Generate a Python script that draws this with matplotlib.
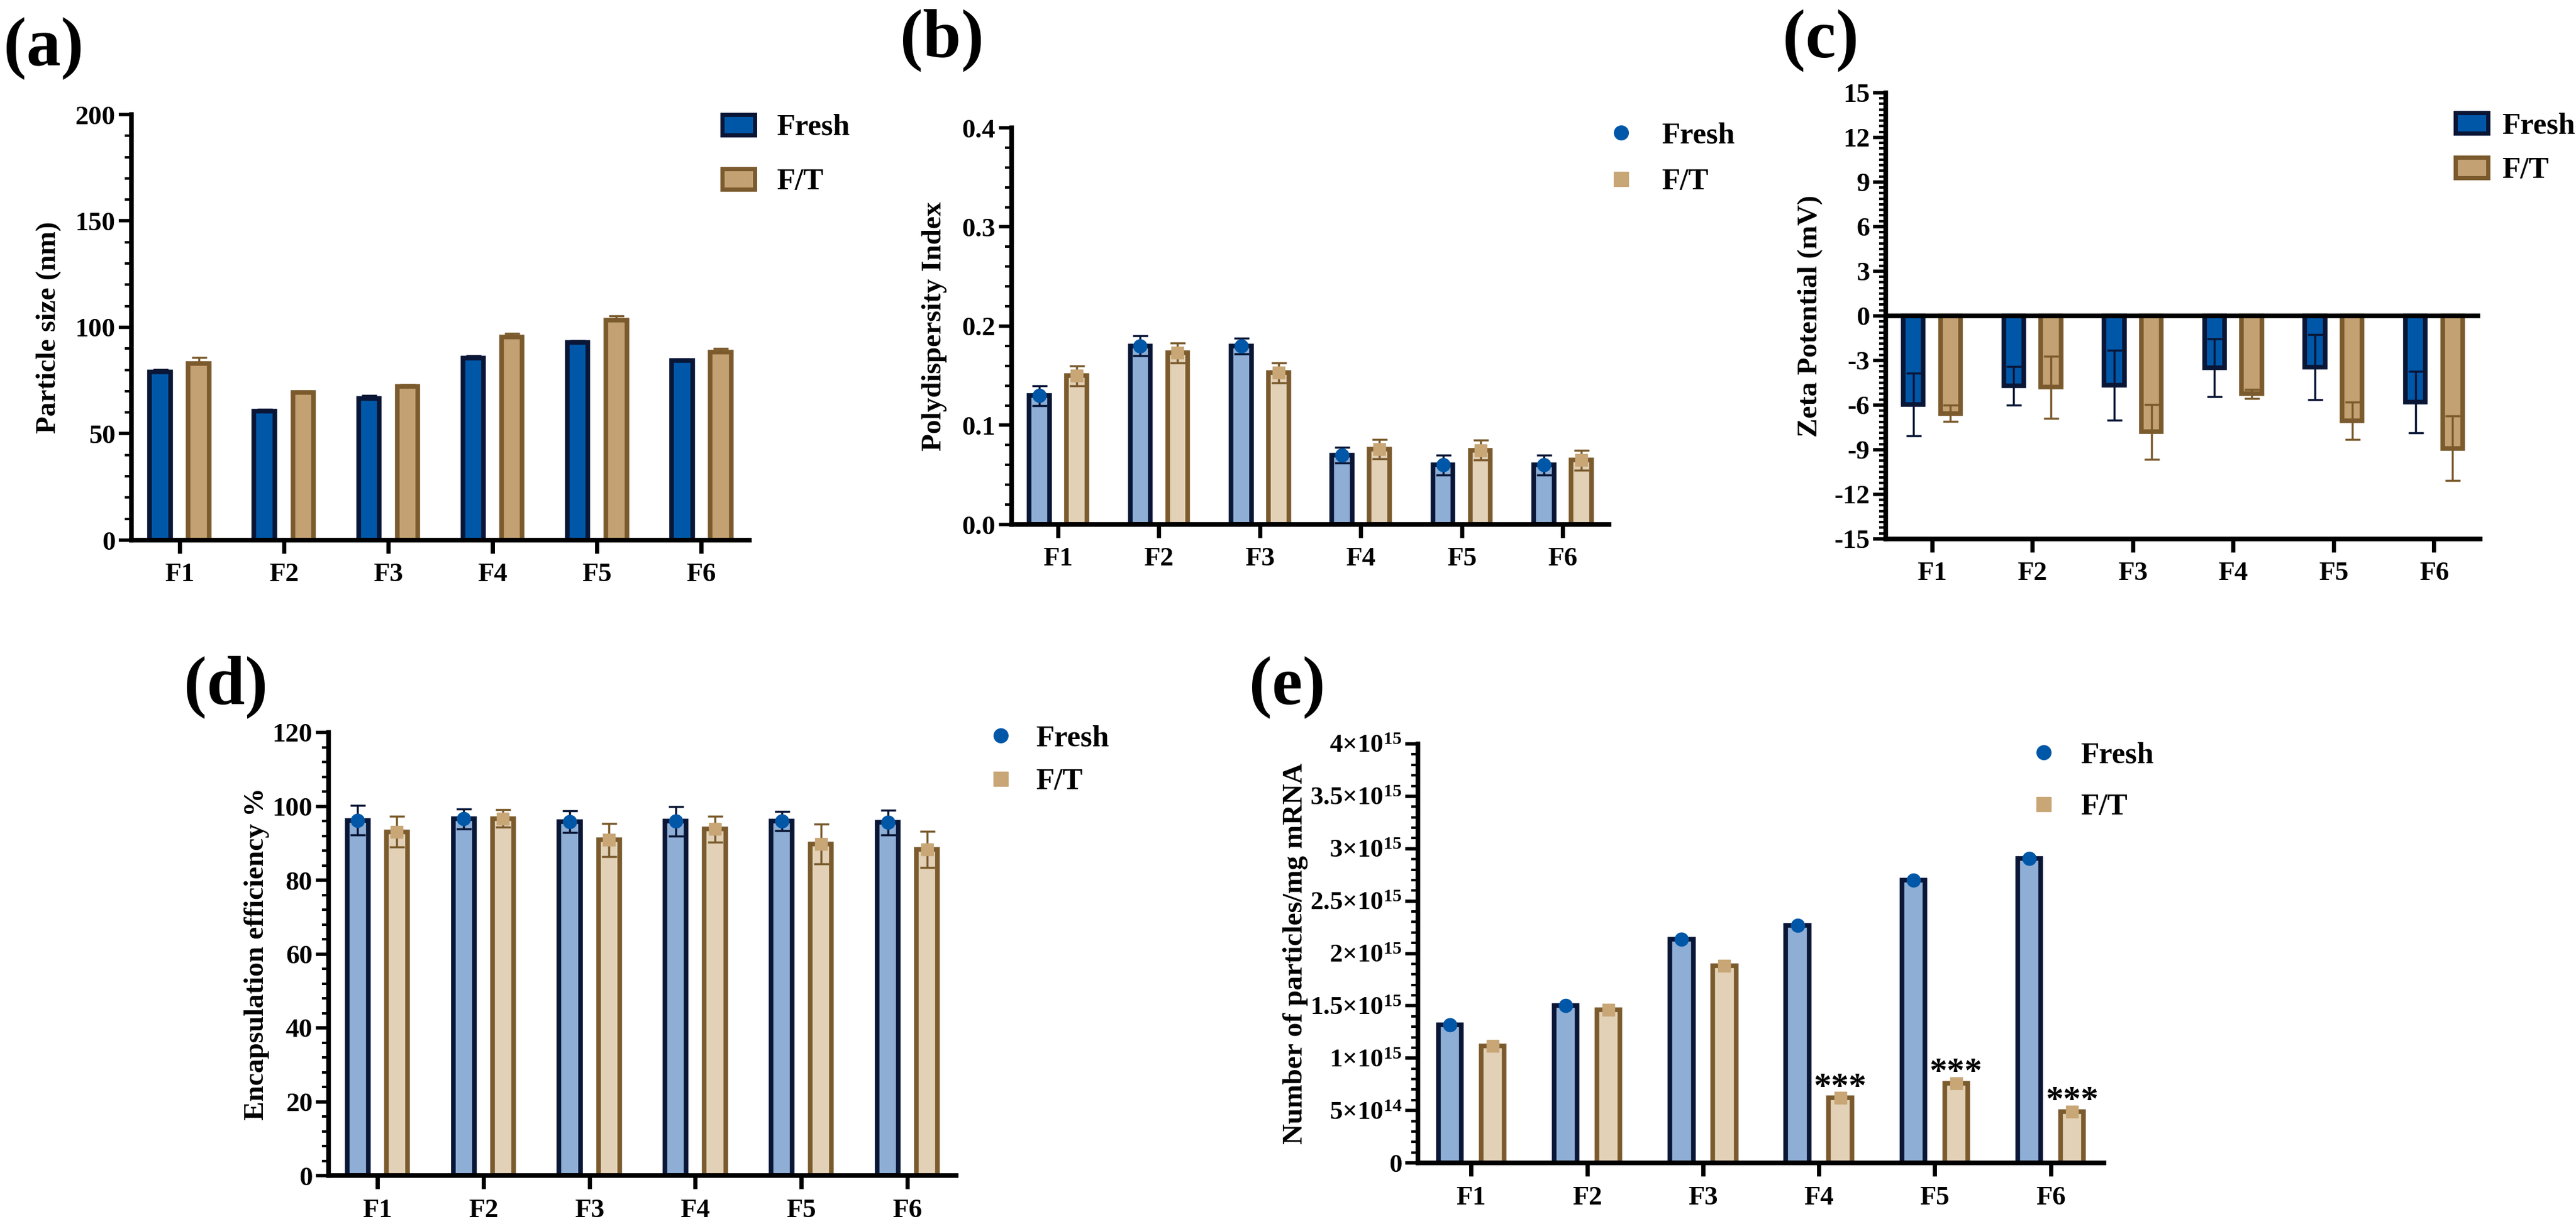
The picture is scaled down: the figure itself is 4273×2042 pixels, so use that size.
import matplotlib
matplotlib.use('Agg')
import matplotlib.pyplot as plt
import numpy as np
from matplotlib.ticker import AutoMinorLocator
from matplotlib.patches import Rectangle
from matplotlib.lines import Line2D

FONT = 'Liberation Serif'
plt.rcParams['font.family'] = 'serif'
plt.rcParams['font.serif'] = [FONT, 'DejaVu Serif']
plt.rcParams['font.weight'] = 'bold'
plt.rcParams['axes.unicode_minus'] = False
plt.rcParams['mathtext.fontset'] = 'custom'
plt.rcParams['mathtext.rm'] = 'Liberation Serif:bold'
plt.rcParams['mathtext.bf'] = 'Liberation Serif:bold'
plt.rcParams['mathtext.it'] = 'Liberation Serif:bold'

# ---------------- data ----------------
categories = ['F1', 'F2', 'F3', 'F4', 'F5', 'F6']
series = ['Fresh', 'F/T']

size_fresh = [79.0, 60.5, 66.5, 85.5, 93.0, 84.5]
size_fresh_err = [1.2, 1.0, 1.4, 1.1, 0.8, 0.5]
size_ft = [83.0, 69.5, 72.3, 95.5, 103.5, 88.5]
size_ft_err = [2.8, 0.5, 0.8, 1.6, 1.8, 1.5]

pdi_fresh = [0.130, 0.180, 0.180, 0.070, 0.060, 0.060]
pdi_fresh_err = [0.010, 0.010, 0.008, 0.008, 0.010, 0.010]
pdi_ft = [0.150, 0.173, 0.153, 0.076, 0.075, 0.065]
pdi_ft_err = [0.010, 0.010, 0.010, 0.010, 0.010, 0.010]

zeta_fresh = [-5.95, -4.70, -4.65, -3.50, -3.45, -5.80]
zeta_fresh_err = [2.10, 1.30, 2.35, 1.95, 2.20, 2.05]
zeta_ft = [-6.55, -4.80, -7.80, -5.25, -7.05, -8.90]
zeta_ft_err = [0.55, 2.10, 1.85, 0.30, 1.25, 2.15]

ee_fresh = [96.2, 96.6, 95.8, 96.0, 96.0, 95.6]
ee_fresh_err = [4.0, 2.7, 2.9, 4.0, 2.6, 3.3]
ee_ft = [93.1, 96.7, 90.9, 93.8, 89.8, 88.4]
ee_ft_err = [4.2, 2.4, 4.5, 3.5, 5.4, 4.9]

npart_fresh = [1.32e15, 1.50e15, 2.135e15, 2.27e15, 2.70e15, 2.905e15]
npart_ft = [1.115e15, 1.46e15, 1.88e15, 6.2e14, 7.6e14, 4.9e14]
npart_sig = ['', '', '', '***', '***', '***']

# tick labels
size_ticks = ['0', '50', '100', '150', '200']
pdi_ticks = ['0.0', '0.1', '0.2', '0.3', '0.4']
zeta_ticks = ['-15', '-12', '-9', '-6', '-3', '0', '3', '6', '9', '12', '15']
ee_ticks = ['0', '20', '40', '60', '80', '100', '120']
npart_ticks = ['0', r'$5×10^{14}$', r'$1×10^{15}$', r'$1.5×10^{15}$', r'$2×10^{15}$',
               r'$2.5×10^{15}$', r'$3×10^{15}$', r'$3.5×10^{15}$', r'$4×10^{15}$']

# ---------------- styles ----------------
NAVY = '#0A1636'
BLUE = '#0057A8'
LBLUE = '#8EAED6'
BROWN = '#7B5B2D'
TAN = '#C4A172'
LTAN = '#E2D1B7'
MTAN = '#C8A676'

W, H = 4273, 2042
fig = plt.figure(figsize=(W / 100, H / 100), dpi=100)

x = np.arange(len(categories))
OFF = 0.185
BW = 0.2
ELW = 5.5
TXT = dict(family=FONT, fontweight='bold')


def add_axes_px(left, right, top, bottom):
    return fig.add_axes([left / W, 1 - bottom / H, (right - left) / W, (bottom - top) / H])


def style(ax, ylo, yhi, ylabels, yminor, ysize=32):
    for s in ['top', 'right']:
        ax.spines[s].set_visible(False)
    for s in ['left', 'bottom']:
        ax.spines[s].set_linewidth(5.5)
        ax.spines[s].set_capstyle('projecting')
    ax.set_xlim(-0.46, 5.46)
    ax.set_ylim(ylo, yhi)
    ax.set_xticks(x, categories, fontsize=32, **TXT)
    yt = np.linspace(ylo, yhi, len(ylabels))
    ax.set_yticks(yt, ylabels, fontsize=ysize, **TXT)
    ax.yaxis.set_minor_locator(AutoMinorLocator(yminor))
    ax.tick_params(axis='y', which='major', length=15, width=4, pad=4)
    ax.tick_params(axis='y', which='minor', length=8, width=3)
    ax.tick_params(axis='x', which='major', length=16, width=5, pad=11)
    ax.tick_params(axis='x', which='minor', bottom=False)


def ylab(ax, text, xc):
    ax.set_ylabel(text, fontsize=34, va='center', **TXT)
    ax.yaxis.set_label_coords(xc, 0.5)


def patch_legend(xp, yf, yt, xt, dark=True):
    items = [(yf, series[0], BLUE if dark else LBLUE, NAVY), (yt, series[1], TAN if dark else LTAN, BROWN)]
    for yc, lab, fc, ec in items:
        pw, ph = 54, 34
        fig.add_artist(Rectangle((xp / W, 1 - (yc + ph / 2) / H), pw / W, ph / H,
                                 transform=fig.transFigure, facecolor=fc, edgecolor=ec, linewidth=5))
        fig.text(xt / W, 1 - (yc + 5) / H, lab, fontsize=36, va='center', ha='left', **TXT)


def marker_legend(xm, yf, yt, xt):
    items = [(yf, series[0], 'o', BLUE), (yt, series[1], 's', MTAN)]
    for yc, lab, mk, col in items:
        fig.add_artist(Line2D([xm / W], [1 - yc / H], marker=mk, markersize=17, color=col,
                              linestyle='none', transform=fig.transFigure))
        fig.text(xt / W, 1 - (yc + 5) / H, lab, fontsize=36, va='center', ha='left', **TXT)


def panel_letter(xl, yc, s):
    fig.text(xl / W, 1 - yc / H, s, fontsize=82, va='center', ha='left', **TXT)


EB = dict(elinewidth=2.5, capsize=9, capthick=2.5, zorder=3)

# ---------------- (a) particle size ----------------
ax = add_axes_px(218, 1243, 190, 896)
style(ax, 0, 200, size_ticks, 5)
ax.bar(x - OFF, size_fresh, BW, color=BLUE, edgecolor=NAVY, linewidth=ELW, zorder=2)
ax.bar(x + OFF, size_ft, BW, color=TAN, edgecolor=BROWN, linewidth=ELW, zorder=2)
ax.errorbar(x - OFF, size_fresh, yerr=[np.zeros(6), size_fresh_err], fmt='none', ecolor=NAVY, **EB)
ax.errorbar(x + OFF, size_ft, yerr=[np.zeros(6), size_ft_err], fmt='none', ecolor=BROWN, **EB)
ylab(ax, 'Particle size (nm)', -0.134)
patch_legend(1198, 207, 297, 1288, dark=True)
panel_letter(6, 80, '(a)')

# ---------------- (b) PDI ----------------
ax = add_axes_px(1678, 2669, 212, 870)
style(ax, 0, 0.4, pdi_ticks, 5)
ax.bar(x - OFF, pdi_fresh, BW, color=LBLUE, edgecolor=NAVY, linewidth=ELW, zorder=2)
ax.bar(x + OFF, pdi_ft, BW, color=LTAN, edgecolor=BROWN, linewidth=ELW, zorder=2)
ax.errorbar(x - OFF, pdi_fresh, yerr=pdi_fresh_err, fmt='o', ms=16, color=BLUE, ecolor=NAVY, **EB)
ax.errorbar(x + OFF, pdi_ft, yerr=pdi_ft_err, fmt='s', ms=15, color=MTAN, ecolor=BROWN, **EB)
ylab(ax, 'Polydispersity Index', -0.129)
marker_legend(2689, 220, 297, 2756)
panel_letter(1493, 67, '(b)')

# ---------------- (c) zeta potential ----------------
ax = add_axes_px(3128, 4114, 154, 894)
style(ax, -15, 15, zeta_ticks, 8)
ax.bar(x - OFF, zeta_fresh, BW, color=BLUE, edgecolor=NAVY, linewidth=ELW, zorder=2)
ax.bar(x + OFF, zeta_ft, BW, color=TAN, edgecolor=BROWN, linewidth=ELW, zorder=2)
ax.errorbar(x - OFF, zeta_fresh, yerr=zeta_fresh_err, fmt='none', ecolor=NAVY, **EB)
ax.errorbar(x + OFF, zeta_ft, yerr=zeta_ft_err, fmt='none', ecolor=BROWN, **EB)
ax.axhline(0, color='black', linewidth=5.5, zorder=4)
ylab(ax, 'Zeta Potential (mV)', -0.127)
patch_legend(4073, 204, 278, 4150, dark=True)
panel_letter(2957, 67, '(c)')

# ---------------- (d) encapsulation efficiency ----------------
ax = add_axes_px(545, 1586, 1215, 1950)
style(ax, 0, 120, ee_ticks, 5)
ax.bar(x - OFF, ee_fresh, BW, color=LBLUE, edgecolor=NAVY, linewidth=ELW, zorder=2)
ax.bar(x + OFF, ee_ft, BW, color=LTAN, edgecolor=BROWN, linewidth=ELW, zorder=2)
ax.errorbar(x - OFF, ee_fresh, yerr=ee_fresh_err, fmt='o', ms=16, color=BLUE, ecolor=NAVY, **EB)
ax.errorbar(x + OFF, ee_ft, yerr=ee_ft_err, fmt='s', ms=15, color=MTAN, ecolor=BROWN, **EB)
ylab(ax, 'Encapsulation efficiency %', -0.114)
marker_legend(1660, 1220, 1292, 1718)
panel_letter(305, 1140, '(d)')

# ---------------- (e) number of particles ----------------
ax = add_axes_px(2352, 3490, 1234, 1929)
style(ax, 0, 4e15, npart_ticks, 5, ysize=31)
ax.bar(x - OFF, npart_fresh, BW, color=LBLUE, edgecolor=NAVY, linewidth=ELW, zorder=2)
ax.bar(x + OFF, npart_ft, BW, color=LTAN, edgecolor=BROWN, linewidth=ELW, zorder=2)
ax.plot(x - OFF, npart_fresh, 'o', ms=16, color=BLUE, zorder=3)
ax.plot(x + OFF, npart_ft, 's', ms=15, color=MTAN, zorder=3)
for xi, v, s in zip(x + OFF, npart_ft, npart_sig):
    if s:
        ax.annotate(s, (xi, v), xytext=(0, 12), textcoords='offset points', ha='center',
                    va='center', fontsize=42, **TXT)
ylab(ax, 'Number of particles/mg mRNA', -0.178)
marker_legend(3390, 1248, 1334, 3451)
panel_letter(2072, 1140, '(e)')

fig.savefig('out.png', dpi=100)
